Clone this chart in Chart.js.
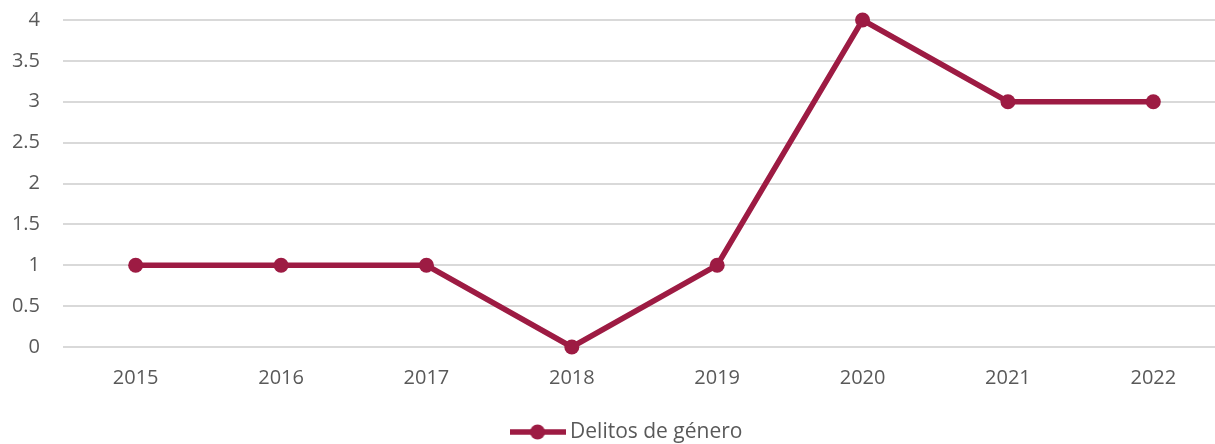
<!DOCTYPE html>
<html>
<head>
<meta charset="utf-8">
<script src="https://cdn.jsdelivr.net/npm/chart.js@4/dist/chart.umd.min.js"></script>
<style>
  html, body { margin: 0; padding: 0; background: #fff; overflow: hidden; }
  #wrap { width: 1215px; height: 444px; overflow: hidden; position: relative; }
  canvas { display: block; }
</style>
</head>
<body>
<div id="wrap"><canvas id="c" width="1254" height="444"></canvas></div>
<script>
const categories = ['2015', '2016', '2017', '2018', '2019', '2020', '2021', '2022'];
const seriesName = 'Delitos de género';
const seriesValues = [1, 1, 1, 0, 1, 4, 3, 3];
const yTicks = [0, 0.5, 1, 1.5, 2, 2.5, 3, 3.5, 4];

const COLOR = '#9D1B43';
const TEXT = '#595959';
const FONT = "'Open Sans', sans-serif";
const PLOT_LEFT = 63, PLOT_TOP = 20, PLOT_BOTTOM = 347, LEGEND_CENTER = 432, PAD_RIGHT = 28, LEGEND_SHIFT = 16;

// legend marker: line with a dot in the middle
const marker = document.createElement('canvas');
marker.width = 56; marker.height = 18;
(function () {
  const g = marker.getContext('2d');
  g.strokeStyle = COLOR; g.lineWidth = 5.5; g.lineCap = 'butt';
  g.beginPath(); g.moveTo(0, 9); g.lineTo(56, 9); g.stroke();
  g.fillStyle = COLOR;
  g.beginPath(); g.arc(28, 9, 7.5, 0, Math.PI * 2); g.fill();
})();

const legendShift = {
  id: 'legendShift',
  afterLayout(chart) {
    if (chart.legend) { chart.legend.left += LEGEND_SHIFT; chart.legend.right += LEGEND_SHIFT; }
  }
};

const ch = new Chart(document.getElementById('c'), {
  type: 'line',
  plugins: [legendShift],
  data: {
    labels: categories,
    datasets: [{
      label: seriesName,
      data: seriesValues,
      borderColor: COLOR,
      backgroundColor: COLOR,
      borderWidth: 5.5,
      pointRadius: 7.5,
      pointHoverRadius: 7.5,
      pointBorderWidth: 0,
      pointBackgroundColor: COLOR,
      tension: 0,
      fill: false,
      clip: false
    }]
  },
  options: {
    responsive: false,
    animation: false,
    devicePixelRatio: 1,
    layout: { padding: { top: PLOT_TOP, left: 0, right: PAD_RIGHT, bottom: 0 } },
    plugins: {
      tooltip: { enabled: false },
      legend: {
        position: 'bottom',
        labels: {
          usePointStyle: true,
          pointStyleWidth: 44,
          boxHeight: 18,
          color: TEXT,
          font: { family: FONT, size: 21 },
          padding: 10,
          generateLabels: (chart) => [{
            text: seriesName,
            pointStyle: marker,
            fillStyle: COLOR,
            strokeStyle: COLOR,
            lineWidth: 0,
            hidden: false,
            datasetIndex: 0,
            fontColor: TEXT
          }]
        }
      }
    },
    scales: {
      x: {
        type: 'category',
        offset: true,
        grid: { display: false, drawTicks: false },
        border: { display: false },
        ticks: { color: TEXT, font: { family: FONT, size: 20 }, padding: 19, maxRotation: 0 },
        afterFit: (s) => {
          const c = s.chart;
          const pb = c.options.layout.padding.bottom || 0;
          s.height = c.height - pb - (c.legend ? c.legend.height : 0) - PLOT_BOTTOM;
          s.paddingLeft = 0; s.paddingRight = 0;
        }
      },
      y: {
        min: 0,
        max: 4,
        afterBuildTicks: (s) => { s.ticks = yTicks.map(v => ({ value: v })); },
        grid: { color: '#d9d9d9', lineWidth: 2, drawTicks: false },
        border: { display: false },
        ticks: { color: TEXT, font: { family: FONT, size: 20 }, padding: 23, callback: (v) => String(v) },
        afterFit: (s) => { s.width = PLOT_LEFT; s.paddingTop = 0; s.paddingBottom = 0; }
      }
    }
  }
});
// second pass: push legend so its centre sits at LEGEND_CENTER
const lh = ch.legend.height;
ch.options.layout.padding.bottom = (ch.height - LEGEND_CENTER) - lh / 2;
ch.update();
</script>
</body>
</html>
